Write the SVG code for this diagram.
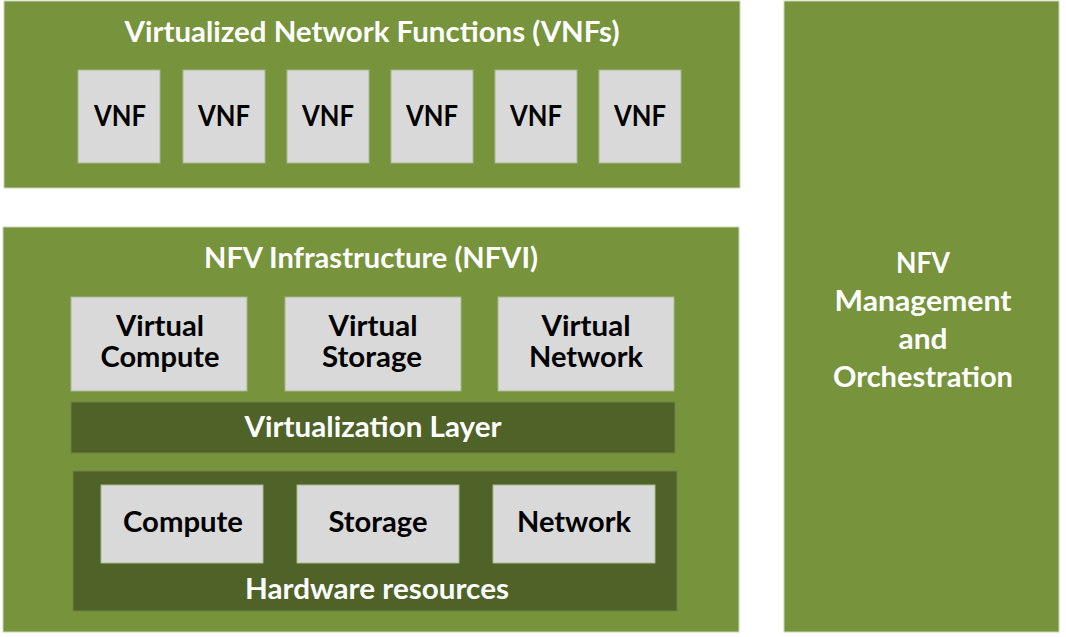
<svg xmlns="http://www.w3.org/2000/svg" width="1066" height="637" viewBox="0 0 1066 637">
<style>
.g{fill:#77933C;stroke:#C9D6B4;stroke-width:1}
.d{fill:#4F6228;stroke:#6E8446;stroke-width:1}
.b{fill:#D9D9D9;stroke:#A7B88A;stroke-width:1}
text{font-family:Lato,"Open Sans","Liberation Sans",sans-serif;font-weight:bold;font-size:28px;text-anchor:middle}
.w{fill:#FFFFFF}
.k{fill:#000000}
</style>
<rect width="1066" height="637" fill="#FFFFFF"/>
<g id="vnfs">
<rect class="g" x="4" y="1" width="736" height="187"/>
<text class="w" x="372" y="42" textLength="495" lengthAdjust="spacingAndGlyphs">Virtualized Network Functions (VNFs)</text>
</g>
<g id="vnf1"><rect class="b" x="78" y="70" width="82" height="93"/><text class="k" x="120" y="126" textLength="52" lengthAdjust="spacingAndGlyphs">VNF</text></g>
<g id="vnf2"><rect class="b" x="183" y="70" width="82" height="93"/><text class="k" x="224" y="126" textLength="52" lengthAdjust="spacingAndGlyphs">VNF</text></g>
<g id="vnf3"><rect class="b" x="287" y="70" width="82" height="93"/><text class="k" x="328" y="126" textLength="52" lengthAdjust="spacingAndGlyphs">VNF</text></g>
<g id="vnf4"><rect class="b" x="391" y="70" width="82" height="93"/><text class="k" x="432" y="126" textLength="52" lengthAdjust="spacingAndGlyphs">VNF</text></g>
<g id="vnf5"><rect class="b" x="495" y="70" width="82" height="93"/><text class="k" x="536" y="126" textLength="52" lengthAdjust="spacingAndGlyphs">VNF</text></g>
<g id="vnf6"><rect class="b" x="599" y="70" width="82" height="93"/><text class="k" x="640" y="126" textLength="52" lengthAdjust="spacingAndGlyphs">VNF</text></g>
<g id="mano">
<rect class="g" x="784" y="1" width="275" height="631"/>
<text class="w" x="923" y="273" textLength="54" lengthAdjust="spacingAndGlyphs">NFV</text>
<text class="w" x="923" y="311" textLength="177" lengthAdjust="spacingAndGlyphs">Management</text>
<text class="w" x="923" y="349" textLength="49" lengthAdjust="spacingAndGlyphs">and</text>
<text class="w" x="923" y="387" textLength="180" lengthAdjust="spacingAndGlyphs">Orchestration</text>
</g>
<g id="nfvi">
<rect class="g" x="3" y="227" width="736" height="405"/>
<text class="w" x="371" y="268" textLength="334" lengthAdjust="spacingAndGlyphs">NFV Infrastructure (NFVI)</text>
</g>
<g id="vcompute"><rect class="b" x="71" y="297" width="176" height="94"/><text class="k" x="160" y="336" textLength="88" lengthAdjust="spacingAndGlyphs">Virtual</text><text class="k" x="160" y="367" textLength="119" lengthAdjust="spacingAndGlyphs">Compute</text></g>
<g id="vstorage"><rect class="b" x="285" y="297" width="176" height="94"/><text class="k" x="373" y="336" textLength="89" lengthAdjust="spacingAndGlyphs">Virtual</text><text class="k" x="372" y="367" textLength="100" lengthAdjust="spacingAndGlyphs">Storage</text></g>
<g id="vnetwork"><rect class="b" x="498" y="297" width="176" height="94"/><text class="k" x="586" y="336" textLength="89" lengthAdjust="spacingAndGlyphs">Virtual</text><text class="k" x="586" y="367" textLength="114" lengthAdjust="spacingAndGlyphs">Network</text></g>
<g id="virt-layer"><rect class="d" x="71" y="402" width="604" height="51"/><text class="w" x="373" y="437" textLength="257" lengthAdjust="spacingAndGlyphs">Virtualization Layer</text></g>
<g id="hardware"><rect class="d" x="73" y="471" width="604" height="140"/><text class="w" x="377" y="599" textLength="264" lengthAdjust="spacingAndGlyphs">Hardware resources</text></g>
<g id="compute"><rect class="b" x="101" y="485" width="162" height="78"/><text class="k" x="183" y="532" textLength="120" lengthAdjust="spacingAndGlyphs">Compute</text></g>
<g id="storage"><rect class="b" x="297" y="485" width="162" height="78"/><text class="k" x="378" y="532" textLength="99" lengthAdjust="spacingAndGlyphs">Storage</text></g>
<g id="network"><rect class="b" x="493" y="485" width="162" height="78"/><text class="k" x="574" y="532" textLength="114" lengthAdjust="spacingAndGlyphs">Network</text></g>
<g id="connectors"></g>
</svg>
